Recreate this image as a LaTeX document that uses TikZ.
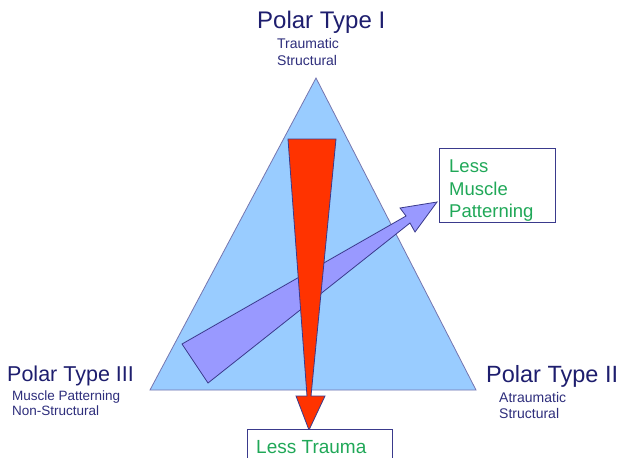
\documentclass[tikz,border=0pt]{standalone}
\usepackage{fontspec}
\setmainfont{Liberation Sans}
\usetikzlibrary{positioning}

\definecolor{poleblue}{HTML}{1E1E6E}
\definecolor{subblue}{HTML}{2E2E7C}
\definecolor{lessgreen}{HTML}{20A858}
\definecolor{triblue}{HTML}{99CCFF}
\definecolor{wedgered}{HTML}{FF3300}
\definecolor{wedgeviolet}{HTML}{9999FF}
\definecolor{edgeblue}{HTML}{3A3A8C}

\tikzset{
  poletitle/.style={inner sep=0pt, anchor=base west, text=poleblue},
  polesub/.style={inner sep=0pt, anchor=base west, text=subblue,
    font=\fontsize{14}{16.5}\selectfont},
  lessbox/.style={draw=edgeblue, line width=0.9pt, fill=white},
  lesstext/.style={inner sep=0pt, anchor=base west, text=lessgreen,
    font=\fontsize{18.5}{22.5}\selectfont},
}

\begin{document}
\begin{tikzpicture}[x=1pt, y=-1pt]
    \useasboundingbox (0,0) rectangle (622,458);
    \fill[white] (0,0) rectangle (622,458);

    % the triangle of the three poles
    \coordinate (apexI) at (316,78);
    \coordinate (cornerIII) at (150,390);
    \coordinate (cornerII) at (476,390);
    \fill[triblue, draw=edgeblue!70, line width=0.8pt] (apexI) -- (cornerII) -- (cornerIII) -- cycle;

    % violet wedge towards less muscle patterning
    \fill[wedgeviolet, draw=edgeblue, line width=0.8pt, line join=miter]
      (182,344) -- (406,216) -- (400,208) -- (437,202) -- (415,232) -- (410,223) -- (208,383) -- cycle;

    % red wedge towards less trauma
    \fill[wedgered, draw=edgeblue, line width=0.8pt, line join=miter]
      (288,139) -- (336,139) -- (311,396) -- (325,396) -- (309,430) -- (296,396) -- (307,396) -- cycle;

    % pole labels
    \node[poletitle, font=\fontsize{24}{28}\selectfont] (titleI) at (257,28) {Polar Type I};
    \node[polesub] (subIa) at (277,48) {Traumatic};
    \node[polesub] (subIb) at (277,65) {Structural};
    \node[poletitle, font=\fontsize{21.5}{26}\selectfont] (titleIII) at (7,381) {Polar Type III};
    \node[polesub, font=\fontsize{13.5}{15.5}\selectfont] (subIIIa) at (12,400) {Muscle Patterning};
    \node[polesub, font=\fontsize{13.5}{15.5}\selectfont] (subIIIb) at (12,415) {Non-Structural};
    \node[poletitle, font=\fontsize{23.5}{28}\selectfont] (titleII) at (486,382) {Polar Type II};
    \node[polesub] (subIIa) at (499,402) {Atraumatic};
    \node[polesub] (subIIb) at (499,418) {Structural};

    % boxes at the arrow tips
    \draw[lessbox] (439,148) rectangle (555,222);
    \node[lesstext] (lessA) at (449,172) {Less};
    \node[lesstext] (lessB) at (449,195) {Muscle};
    \node[lesstext] (lessC) at (449,217) {Patterning};
    \draw[lessbox] (247,429) rectangle (392,470);
    \node[lesstext, font=\fontsize{19}{22}\selectfont] (lesstrauma) at (256,453) {Less Trauma};
\end{tikzpicture}
\end{document}
